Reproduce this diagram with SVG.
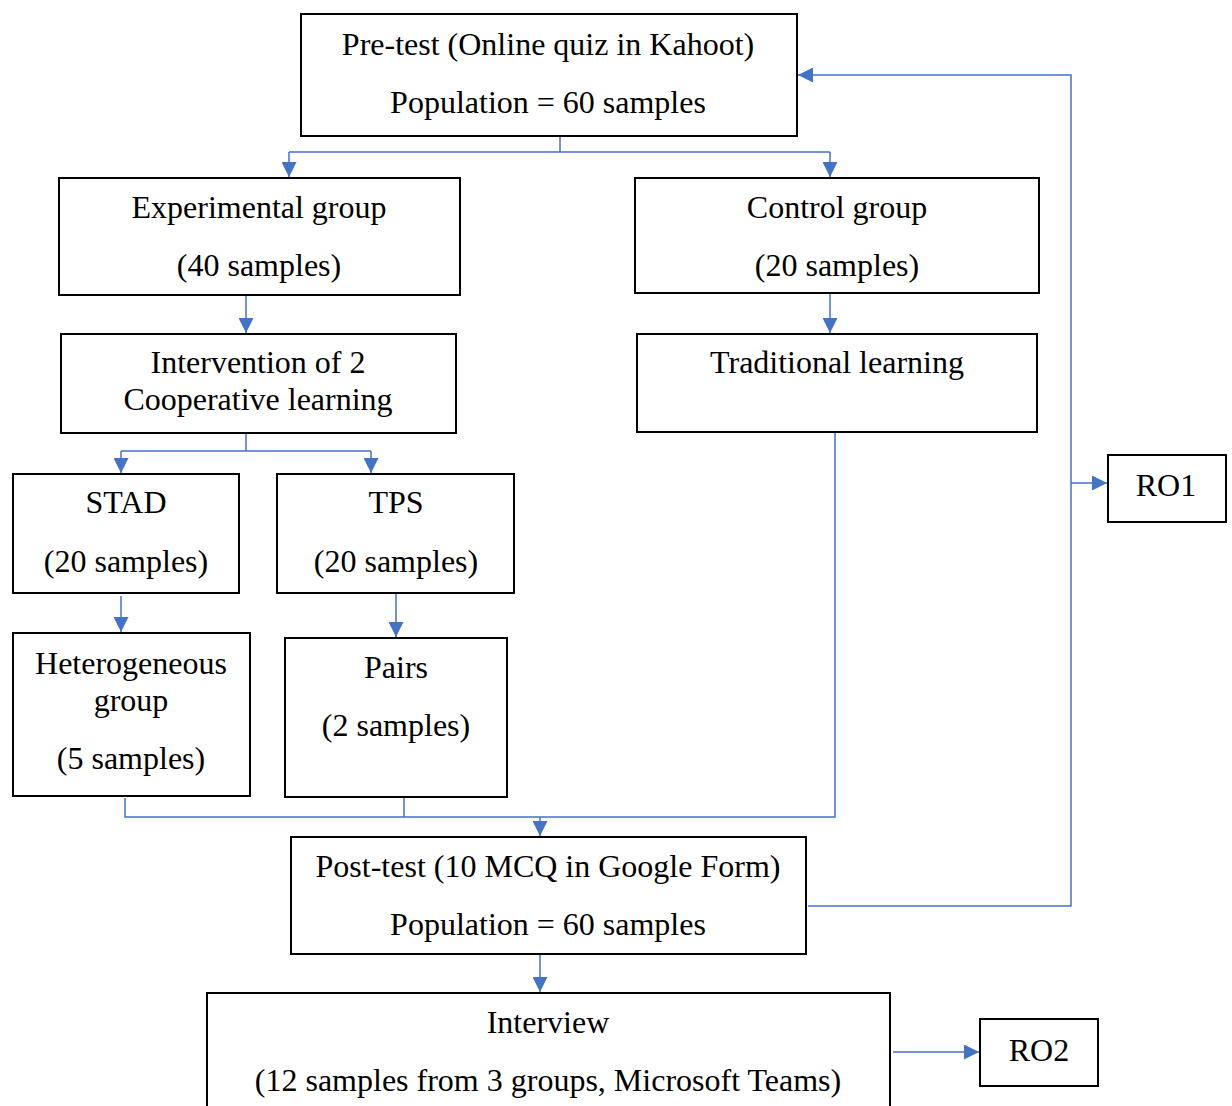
<svg xmlns="http://www.w3.org/2000/svg" width="1232" height="1106" viewBox="0 0 1232 1106">
<style>
.box{fill:#fff;stroke:#000;stroke-width:2}
.t{font-family:"Liberation Serif","Times New Roman",serif;font-size:32px;fill:#000;text-anchor:middle}
.c{fill:none;stroke:#4472C4;stroke-width:1.5}
</style>
<defs>
<marker id="ah" viewBox="0 0 15 15" refX="15" refY="7.5" markerWidth="15" markerHeight="15" markerUnits="userSpaceOnUse" orient="auto">
<path d="M0,0 L15,7.5 L0,15 Z" fill="#4472C4"/>
</marker>
</defs>
<rect width="1232" height="1106" fill="#fff"/>
<g id="connectors">
<path class="c" d="M560,136 V152 M289,152 H830"/>
<path class="c" d="M289,152 V177" marker-end="url(#ah)"/>
<path class="c" d="M830,152 V177" marker-end="url(#ah)"/>
<path class="c" d="M246,296 V333" marker-end="url(#ah)"/>
<path class="c" d="M830,294 V333" marker-end="url(#ah)"/>
<path class="c" d="M246,434 V451 M121,451 H371"/>
<path class="c" d="M121,451 V473" marker-end="url(#ah)"/>
<path class="c" d="M371,451 V473" marker-end="url(#ah)"/>
<path class="c" d="M121,596 V632" marker-end="url(#ah)"/>
<path class="c" d="M396,594 V637" marker-end="url(#ah)"/>
<path class="c" d="M125,798 V817 H835 V433 M404,798 V817"/>
<path class="c" d="M540,817 V836" marker-end="url(#ah)"/>
<path class="c" d="M540,955 V992" marker-end="url(#ah)"/>
<path class="c" d="M808,906 H1071 V75 H798" marker-end="url(#ah)"/>
<path class="c" d="M1071,483 H1107" marker-end="url(#ah)"/>
<path class="c" d="M893,1052 H979" marker-end="url(#ah)"/>
</g>
<g id="pretest"><rect class="box" x="301" y="14" width="496" height="122"/>
<text class="t" x="548" y="55">Pre-test (Online quiz in Kahoot)</text>
<text class="t" x="548" y="113">Population = 60 samples</text></g>
<g id="experimental"><rect class="box" x="59" y="178" width="401" height="117"/>
<text class="t" x="259" y="218">Experimental group</text>
<text class="t" x="259" y="276">(40 samples)</text></g>
<g id="control"><rect class="box" x="635" y="178" width="404" height="115"/>
<text class="t" x="837" y="218">Control group</text>
<text class="t" x="837" y="276">(20 samples)</text></g>
<g id="intervention"><rect class="box" x="61" y="334" width="395" height="99"/>
<text class="t" x="258" y="373">Intervention of 2</text>
<text class="t" x="258" y="410">Cooperative learning</text></g>
<g id="traditional"><rect class="box" x="637" y="334" width="400" height="98"/>
<text class="t" x="837" y="373">Traditional learning</text></g>
<g id="stad"><rect class="box" x="13" y="474" width="226" height="119"/>
<text class="t" x="126" y="513">STAD</text>
<text class="t" x="126" y="572">(20 samples)</text></g>
<g id="tps"><rect class="box" x="277" y="474" width="237" height="119"/>
<text class="t" x="396" y="513">TPS</text>
<text class="t" x="396" y="572">(20 samples)</text></g>
<g id="heterogeneous"><rect class="box" x="13" y="633" width="237" height="163"/>
<text class="t" x="131" y="674">Heterogeneous</text>
<text class="t" x="131" y="711">group</text>
<text class="t" x="131" y="769">(5 samples)</text></g>
<g id="pairs"><rect class="box" x="285" y="638" width="222" height="159"/>
<text class="t" x="396" y="678">Pairs</text>
<text class="t" x="396" y="736">(2 samples)</text></g>
<g id="posttest"><rect class="box" x="291" y="837" width="515" height="117"/>
<text class="t" x="548" y="877">Post-test (10 MCQ in Google Form)</text>
<text class="t" x="548" y="935">Population = 60 samples</text></g>
<g id="interview"><rect class="box" x="207" y="993" width="683" height="120"/>
<text class="t" x="548" y="1033">Interview</text>
<text class="t" x="548" y="1091">(12 samples from 3 groups, Microsoft Teams)</text></g>
<g id="ro1"><rect class="box" x="1108" y="455" width="118" height="67"/>
<text class="t" x="1166" y="496">RO1</text></g>
<g id="ro2"><rect class="box" x="980" y="1019" width="118" height="67"/>
<text class="t" x="1039" y="1061">RO2</text></g>
</svg>
